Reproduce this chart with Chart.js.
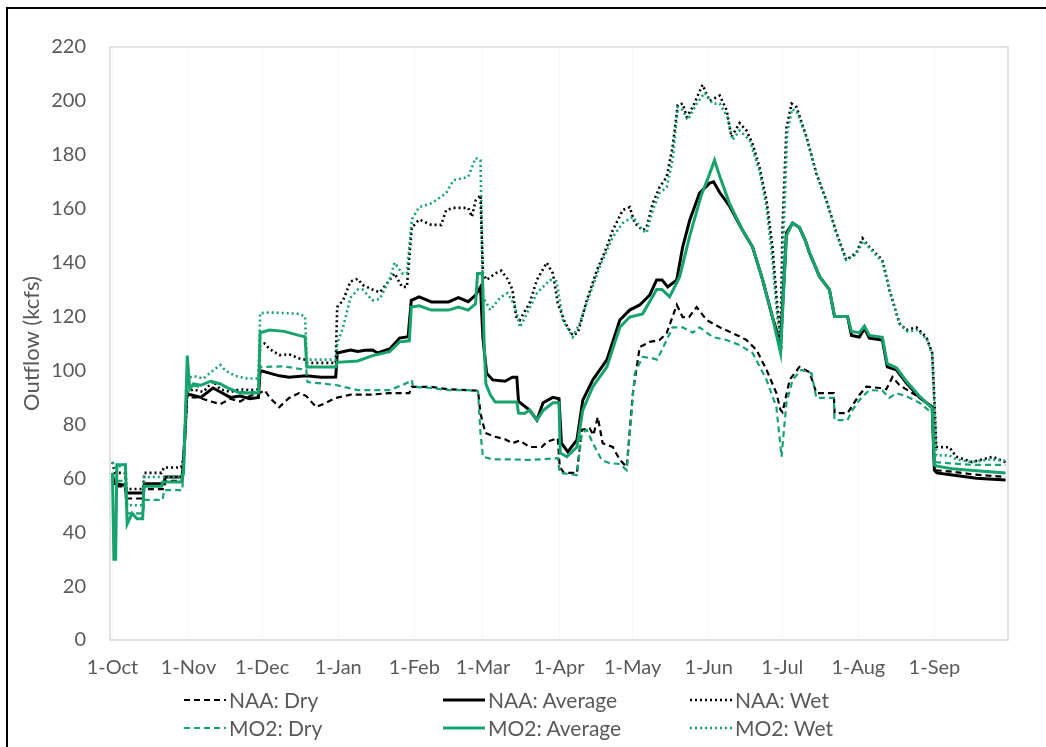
<!DOCTYPE html>
<html>
<head>
<meta charset="utf-8">
<script src="https://cdn.jsdelivr.net/npm/chart.js@4/dist/chart.umd.min.js"></script>
<style>
  html, body { margin: 0; padding: 0; background: #fff; overflow: hidden; }
  #wrap { position: relative; width: 1046px; height: 747px; }
  #frame { position: absolute; left: 6px; top: 7px; width: 1100px; height: 800px; border: 2px solid #000; box-sizing: border-box; pointer-events: none; }
  #chartBox { position: absolute; left: 0; top: 0; width: 1046px; height: 747px; }
  .leg { position: absolute; display: flex; align-items: center; font-family: Lato, "Open Sans", sans-serif; font-size: 21px; color: #595959; line-height: 26px; }
  .leg svg { margin-right: 3px; }
</style>
</head>
<body>
<div id="wrap">
  <div id="chartBox"><canvas id="grafico"></canvas></div>
  <div id="legend"></div>
  <div id="frame"></div>
</div>
<script>
// Days counted from 1-Oct, flow in kcfs
const monthDays = [0, 31, 61, 92, 123, 151, 182, 212, 243, 273, 304, 335];
const monthLabels = ['1-Oct', '1-Nov', '1-Dec', '1-Jan', '1-Feb', '1-Mar', '1-Apr', '1-May', '1-Jun', '1-Jul', '1-Aug', '1-Sep'];

const naaDry = [
  [0,60],[1,57],[5,57],[5.8,52.5],[12.5,52.5],[13,56],[21,56],[21.5,59],[28.5,59],[30.3,90],[35,90],[40,88.5],[44,87.5],[48,89.5],[52,88.5],[56,90.5],[60,91.6],
  [62,92.7],[64,90],[68,86.4],[72,89.8],[76,91.6],[79,90.5],[83,86.4],[87,88],[91,89.8],[97,91],[105,91],[113,91.6],[121,91.6],[122,93.9],[130,93.9],[137,93],[145,92.7],[149,92.5],
  [150,84],[152,76.8],[156,75.4],[160,74.5],[163,73],[166,74],[170,71.6],[175,71.6],[177,73.5],[181.5,74.9],[182.3,64.2],[184,62],[189.3,62],[191.3,78],[194.5,78.6],[196,76],[197.8,82.7],[199.8,73],[203.9,71.6],[206.8,66.8],[209.6,64.2],
  [212.1,91.6],[214.9,108.7],[219,110.6],[223,111.3],[225.9,113.9],[230,124.3],[232.4,119.8],[235,119.8],[238.1,123.5],[242.2,118.7],[247.5,116],[252.7,113.9],[258.4,111.3],[262.5,107.6],[266.6,100.2],[270.6,91.6],[272.3,85.3],[273.1,84.5],
  [276,96.5],[280,101.3],[284.1,99.4],[286.9,91.6],[294,91.6],[294.3,84.2],[299.6,84.2],[301.6,87],[304.4,90.9],[307.3,94],[312.6,93.5],[315.4,93],[317.9,97.6],[320.7,94.6],[326,91.6],[331.7,88.3],[334.1,86.4],
  [335,63],[342,62.5],[350,61.5],[364,60.5]
];

const naaAvg = [
  [0,61],[1,58],[5,57.5],[5.8,54.5],[12.5,54.5],[13,58],[21,58],[21.5,60.5],[28.5,60.5],[29.5,75],[30.3,91],[32,91],[36,90],[41,93.5],[44,92],[48,90],[52,90.5],[56,89.5],[59.5,90],
  [60.2,100],[64,99],[68,98],[72,97.5],[79,98],[85,97.5],[91,97.6],[91.6,106.5],[97,107.6],[100,107],[103,107.5],[106,107.6],[108,106.5],[113,108],[117,112],[120.5,112.5],
  [121.8,126],[125,127.3],[130,125.4],[137,125.4],[141,127],[145,125.5],[148,128],[150,131],[151,112],[152.5,99],[155,96.5],[160,96],[163,97.5],[164.8,97.5],[165.5,88.5],[170,85.3],[173,81.6],[175.5,88],[179.5,90],[182,89.5],
  [183,73],[185.6,69.8],[189.3,74.2],[191.7,89],[195.8,96.5],[201.5,103.9],[206.8,118.7],[210.8,122.4],[214.9,124.3],[219,128],[221.8,133.6],[224,133.6],[226.3,131],[230,133.6],[232.4,145.8],[235.3,155.8],[239.3,165.8],[243.4,169.5],[245,170],
  [247.5,166],[251.5,161],[256.8,152],[260.9,145.8],[265,133.6],[269,119.8],[272.3,110],
  [274.7,151],[277.2,154.7],[280,153],[282.5,148],[284.1,143.6],[288.2,134.8],[292.2,130],[294.3,120],[299.6,120],[301.2,113],[304.4,112.4],[306.5,115.6],[308.5,112],[313.8,111.3],[315.8,101.3],[319.5,100.2],[323.6,95.3],[328.9,90],[334.1,86.4],
  [335,63],[336,62],[342.3,61.2],[352.1,60],[364,59.4]
];

const naaWet = [
  [0,66],[1,62],[5,62],[5.8,56],[12.5,56],[13,62],[20,62],[21,64],[28,64],[29,67.5],[30.5,92],[33,93],[37,92],[41,96],[44,93],[48,92],[52,93],[56,92.7],[59.5,93],
  [60.2,109.4],[62,110],[64,108],[68,105.7],[72,106],[76,104.5],[78.5,104],[79.2,102.8],[91,102.8],[91.6,123.5],[94,126],[97,133],[100,134],[102,131.7],[106,130],[109,129],[113,133.6],[115,136],[118,131],[120,131],
  [122,153],[125,156],[130,154],[134,154],[136,159.5],[139,160.3],[145,160.3],[146.5,157],[148,163],[150,165],[151,136],[152.5,133.6],[156,136],[158.5,137],[161,134],[163,130],[164.5,120],[166,118.7],[170,125],[173,133.6],[177,140],[179.5,136],[181.5,125],
  [184.5,117.6],[187.6,113],[189.7,114],[193.3,126],[197.4,137],[201.5,145.8],[203.9,152],[208,159.5],[210.8,160.6],[212.9,154.7],[216.1,152],[217.7,153],[220.2,162],[223,168],[225.9,171.8],[228.3,183],[230.4,198.5],[232.4,199],[234.1,194],[236.5,197.7],
  [240.5,206],[243.4,200],[247.5,202],[250.3,196.6],[252.3,186.6],[255.6,191.8],[258.4,189],[260.9,184],[263.7,175.5],[266.6,163],[269,145.8],[271.1,122.4],[272.3,112.4],
  [273.1,153],[274.7,190],[276.8,199],[278.8,197.7],[282.9,186.6],[286.9,173],[291,163],[295.1,151],[299.1,141],[303.2,143.6],[305.7,149],[308.5,145.8],[313.8,141],[316.6,130],[320.7,117.6],[323.6,115],[327.6,116],[331.7,112.4],[334.1,106.5],
  [335,89],[335.8,71.6],[341.1,71.5],[343.9,68],[350.4,66],[358.6,68],[364,66]
];

const mo2Dry = [
  [0,62],[1,59],[5,59],[5.8,47],[12.5,47],[13,52],[20.5,52],[21,55.6],[28.5,55.6],[30.3,95],[35,94],[40,96],[44,95],[48,93],[52,92],[59.5,92],
  [60.2,101.3],[70,101.5],[79,100.2],[79.5,95.7],[91,94.6],[100,92.7],[113,92.7],[120,95.3],[122,96.5],[122.5,93.9],[130,93.5],[137,92.7],[145,92.7],[149,92.3],
  [150,76.8],[151,68],[155,67],[163,67],[170,66.8],[175,67],[181.5,67.5],[182.3,62],[189.3,61.2],[191.3,76.8],[193.3,78],[195.8,73],[199.4,66.8],[202.7,65.6],[206.8,65.3],[209.6,63],
  [212.9,99],[216.1,105],[219.8,104.6],[222,104],[225.9,111.3],[228.3,116],[232.4,116],[236.5,114],[239.3,116],[244.6,112.4],[250.3,111.3],[255.6,109.4],[260.9,106.5],[266.6,96.5],[270.6,86.4],[272.7,68],
  [274.7,88],[277.2,96.5],[280.8,100.2],[284.9,99],[286.9,89.8],[294,89.8],[294.3,81.6],[299.6,81.6],[301.6,85.3],[304.4,89],[308.5,92.7],[313.8,92.5],[316.6,89.8],[319.5,91.5],[323.6,90.5],[328.9,88],[334.1,84.2],
  [335,66],[342,65.5],[350,65],[364,65]
];

const mo2Avg = [
  [0,62],[0.6,30],[1.3,30],[1.8,65],[5.3,65],[6,43],[8,47],[10,45],[12.3,45],[12.8,57],[20,57],[20.5,58.6],[28,58.6],[29,62],[30.5,105.5],[31.5,93],[33,95],[36,94.5],[40,96],[44,95],[47,93.5],[52,91.6],[59.5,91.6],
  [60.2,114],[64,115],[70,114.5],[76,113],[78.5,112.5],[79.2,101.3],[91,101.3],[91.6,103],[100,103.5],[106,105.5],[113,107],[117,110.6],[121,111],
  [121.8,123.5],[125,124],[130,122.4],[137,122.4],[141,123.5],[145,122.4],[148,124.7],[148.8,136],[150.8,136],[151.5,110],[152.2,95],[154,91],[156,88.3],[164.8,88.3],[165.5,84.2],[168,84],[170,85.3],[173,81.6],[175.4,85],[179.5,88],[182,88],
  [182.5,69.4],[185.2,68],[189.3,71.6],[191.7,85.3],[195.8,94],[201.5,101.3],[206.8,116],[210.8,119.8],[216.1,121],[221.8,130],[224,130],[227.1,127.3],[231.2,134.8],[235.3,150],[240,165],[243,172],[245.4,178],
  [247.5,172],[251.5,162],[256.8,152],[260.9,145.8],[265,133.6],[269,119.8],[272.3,106.5],
  [274.7,150],[277.2,154.7],[280,153],[282.5,148],[284.1,143.6],[288.2,134.8],[292.2,130],[294.3,120],[299.6,120],[301.2,114.5],[304.4,114],[306.5,116.5],[308.5,113],[313.8,112.3],[315.8,102.5],[319.5,101],[323.6,96],[328.9,90.5],[334.1,86],
  [335,65],[336,64.5],[342.3,63.5],[352.1,62.8],[364,62]
];

const mo2Wet = [
  [0,66],[1,64],[5.3,65],[6,50],[12.5,50],[13,60.5],[28,60.5],[29,64],[30.5,97],[33,98],[37,97],[41,100],[44,102],[46,100],[50,98],[55,97],[59.5,97],
  [60.2,121.3],[64,121.5],[70,121.3],[76,121],[78.5,120],[79.2,104],[91,104],[91.6,110],[94,116],[97,127],[100,130],[102,130],[106,126],[109,126.5],[113,134],[115,140],[118,136],[120,136],
  [122,156],[125,160.6],[130,162],[136,165.8],[139,170.6],[145,171.8],[148,178.8],[150,178],[151,127.3],[154,122.4],[158,127],[161,128.7],[164,124],[166.1,116],[173,128.7],[178.3,133.6],[181,133],
  [183.6,118.7],[187.6,112.4],[190.5,117.6],[193.3,125],[198.6,138.4],[203.9,149.5],[208,154.7],[212.1,157],[216.1,152],[217.7,151],[220.2,159.5],[223,165.8],[225.9,168],[228.3,178],[230.4,197.7],[232.4,196.6],[234.5,193],[238.1,199],
  [241.4,203],[244.6,199],[247.5,199],[250.7,194],[252.7,185.5],[255.6,189],[259.7,185.5],[263.7,174],[266.6,160.6],[269,141],[271.1,118.7],[272.7,107.6],
  [273.5,150],[275,188],[277,197],[279,196],[283,186],[287,173],[291,163],[295,151],[299,141],[303,143],[306,148],[309,145],[314,140],[317,129],[321,117],[324,114.5],[328,115],[332,111.5],[334.1,106],
  [335,87],[335.8,68.5],[341,68.5],[344,67],[350,66],[358,67],[364,66.5]
];

const NEGRO = '#000000';
const VERDE = '#16a36e';
const TEXTO = '#595959';
const FUENTE = 'Lato, "Open Sans", sans-serif';

// Estilos de línea por escenario
const estilos = {
  dry: { width: 2.2, dash: [6, 4] },
  avg: { width: 3, dash: [] },
  wet: { width: 2.6, dash: [2, 3] }
};

const series = [
  { label: 'NAA: Dry', data: naaDry, color: NEGRO, tipo: 'dry', order: 2 },
  { label: 'NAA: Average', data: naaAvg, color: NEGRO, tipo: 'avg', order: 2 },
  { label: 'NAA: Wet', data: naaWet, color: NEGRO, tipo: 'wet', order: 2 },
  { label: 'MO2: Dry', data: mo2Dry, color: VERDE, tipo: 'dry', order: 1 },
  { label: 'MO2: Average', data: mo2Avg, color: VERDE, tipo: 'avg', order: 1 },
  { label: 'MO2: Wet', data: mo2Wet, color: VERDE, tipo: 'wet', order: 1 }
];

// Marco gris alrededor del área de trazado
const marcoPlot = {
  id: 'marcoPlot',
  beforeDatasetsDraw(chart) {
    const a = chart.chartArea;
    const ctx = chart.ctx;
    ctx.save();
    ctx.strokeStyle = '#d9d9d9';
    ctx.lineWidth = 1.5;
    ctx.strokeRect(a.left, a.top, a.right - a.left, a.bottom - a.top);
    ctx.restore();
  }
};

Chart.defaults.font.family = FUENTE;
Chart.defaults.color = TEXTO;

new Chart(document.getElementById('grafico'), {
  type: 'line',
  data: {
    datasets: series.map(s => ({
      label: s.label,
      data: s.data.map(p => ({ x: p[0], y: p[1] })),
      borderColor: s.color,
      backgroundColor: s.color,
      borderWidth: estilos[s.tipo].width,
      borderDash: estilos[s.tipo].dash,
      pointRadius: 0,
      tension: 0,
      fill: false,
      order: s.order
    }))
  },
  options: {
    responsive: true,
    maintainAspectRatio: false,
    animation: false,
    layout: { padding: { left: 0, top: 47, right: 38, bottom: 0 } },
    plugins: {
      legend: { display: false },
      tooltip: { enabled: false }
    },
    scales: {
      x: {
        type: 'linear',
        min: -1,
        max: 365,
        afterBuildTicks: (axis) => { axis.ticks = monthDays.map(v => ({ value: v })); },
        afterFit: (axis) => { axis.height = 107; },
        ticks: {
          autoSkip: false,
          maxRotation: 0,
          padding: 16,
          font: { size: 20 },
          color: TEXTO,
          callback: (v) => monthLabels[monthDays.indexOf(v)]
        },
        grid: { color: '#f7f7f7', drawTicks: false },
        border: { display: false }
      },
      y: {
        min: 0,
        max: 220,
        afterFit: (axis) => { axis.width = 110; },
        ticks: { stepSize: 20, padding: 24, font: { size: 20 }, color: TEXTO },
        grid: { display: false, drawTicks: false },
        border: { display: false },
        title: {
          display: true,
          text: 'Outflow (kcfs)',
          font: { size: 22 },
          color: TEXTO,
          padding: { top: 19, bottom: 0 }
        }
      }
    }
  },
  plugins: [marcoPlot]
});

// Leyenda en dos filas de tres columnas
const legendBox = document.getElementById('legend');
const colsX = [184, 443, 690];
const filasY = [687, 715];
series.forEach((s, i) => {
  const est = estilos[s.tipo];
  const item = document.createElement('div');
  item.className = 'leg';
  item.style.left = colsX[i % 3] + 'px';
  item.style.top = filasY[Math.floor(i / 3)] + 'px';
  item.innerHTML =
    '<svg width="42" height="10"><line x1="0" y1="5" x2="42" y2="5" stroke="' + s.color +
    '" stroke-width="' + est.width + '" stroke-dasharray="' + est.dash.join(' ') + '"/></svg>' +
    '<span>' + s.label + '</span>';
  legendBox.appendChild(item);
});
</script>
</body>
</html>
